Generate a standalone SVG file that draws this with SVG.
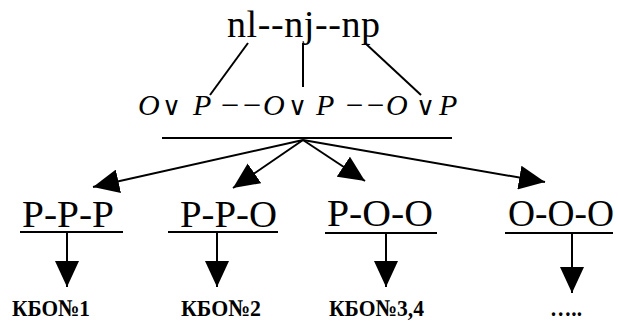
<svg xmlns="http://www.w3.org/2000/svg" width="618" height="325" viewBox="0 0 618 325">
<defs>
<marker id="ah" viewBox="0 0 26 24" markerWidth="26" markerHeight="24" refX="26" refY="12" orient="auto" markerUnits="userSpaceOnUse">
<path d="M0,0 L26,12 L0,24 z" fill="#000"/>
</marker>
</defs>
<g id="top">
<text font-family="Liberation Serif" font-size="38" x="227" y="37" textLength="153" lengthAdjust="spacing">nl&#45;&#45;nj&#45;&#45;np</text>
</g>
<g id="formula">
<text font-family="Liberation Serif" font-style="italic" font-size="30" x="138" y="115">O</text>
<text font-family="Liberation Serif" font-size="26" text-anchor="middle" x="171" y="115">∨</text>
<text font-family="Liberation Serif" font-style="italic" font-size="30" x="193" y="115">P</text>
<text font-family="Liberation Serif" font-style="italic" font-size="30" x="219" y="115" textLength="44" lengthAdjust="spacingAndGlyphs">−−</text>
<text font-family="Liberation Serif" font-style="italic" font-size="30" x="263" y="115">O</text>
<text font-family="Liberation Serif" font-size="26" text-anchor="middle" x="297" y="115">∨</text>
<text font-family="Liberation Serif" font-style="italic" font-size="30" x="316" y="115">P</text>
<text font-family="Liberation Serif" font-style="italic" font-size="30" x="344" y="115" textLength="42" lengthAdjust="spacingAndGlyphs">−−</text>
<text font-family="Liberation Serif" font-style="italic" font-size="30" x="386" y="115">O</text>
<text font-family="Liberation Serif" font-size="26" text-anchor="middle" x="425" y="115">∨</text>
<text font-family="Liberation Serif" font-style="italic" font-size="30" x="439" y="115">P</text>
<line stroke="#000" stroke-width="2" x1="162" y1="138" x2="452" y2="138"/>
</g>
<g id="ppp">
<text font-family="Liberation Serif" font-size="38" x="22" y="227" textLength="92" lengthAdjust="spacingAndGlyphs">P-P-P</text>
<line stroke="#000" stroke-width="2" x1="20" y1="232" x2="123" y2="232"/>
</g>
<g id="ppo">
<text font-family="Liberation Serif" font-size="38" x="180" y="227" textLength="97" lengthAdjust="spacingAndGlyphs">P-P-O</text>
<line stroke="#000" stroke-width="2" x1="168" y1="232" x2="278" y2="232"/>
</g>
<g id="poo">
<text font-family="Liberation Serif" font-size="38" x="327" y="226" textLength="106" lengthAdjust="spacingAndGlyphs">P-O-O</text>
<line stroke="#000" stroke-width="2" x1="325" y1="233" x2="437" y2="233"/>
</g>
<g id="ooo">
<text font-family="Liberation Serif" font-size="38" x="508" y="226" textLength="106" lengthAdjust="spacingAndGlyphs">O-O-O</text>
<line stroke="#000" stroke-width="2" x1="505" y1="233" x2="613" y2="233"/>
</g>
<g id="kbo1"><text font-family="Liberation Serif" font-size="24" font-weight="bold" x="12" y="316" textLength="78" lengthAdjust="spacingAndGlyphs">КБО№1</text></g>
<g id="kbo2"><text font-family="Liberation Serif" font-size="24" font-weight="bold" x="181" y="316" textLength="80" lengthAdjust="spacingAndGlyphs">КБО№2</text></g>
<g id="kbo34"><text font-family="Liberation Serif" font-size="24" font-weight="bold" x="329" y="316" textLength="95" lengthAdjust="spacingAndGlyphs">КБО№3,4</text></g>
<g id="dots"><text font-family="Liberation Serif" font-size="24" font-weight="bold" x="550" y="316" textLength="32" lengthAdjust="spacingAndGlyphs">…..</text></g>
<g id="connectors" stroke="#000" stroke-width="2" fill="none">
<line x1="248" y1="43" x2="210" y2="95"/>
<line x1="303" y1="43" x2="303" y2="87"/>
<line x1="365" y1="43" x2="421" y2="95"/>
<line x1="303" y1="140" x2="93" y2="187" marker-end="url(#ah)"/>
<line x1="303" y1="140" x2="233" y2="188" marker-end="url(#ah)"/>
<line x1="303" y1="140" x2="365" y2="181" marker-end="url(#ah)"/>
<line x1="303" y1="140" x2="545" y2="182" marker-end="url(#ah)"/>
<line x1="67" y1="232" x2="67" y2="287" marker-end="url(#ah)"/>
<line x1="217" y1="232" x2="217" y2="287" marker-end="url(#ah)"/>
<line x1="386" y1="233" x2="386" y2="287" marker-end="url(#ah)"/>
<line x1="572" y1="233" x2="572" y2="293" marker-end="url(#ah)"/>
</g>
</svg>
